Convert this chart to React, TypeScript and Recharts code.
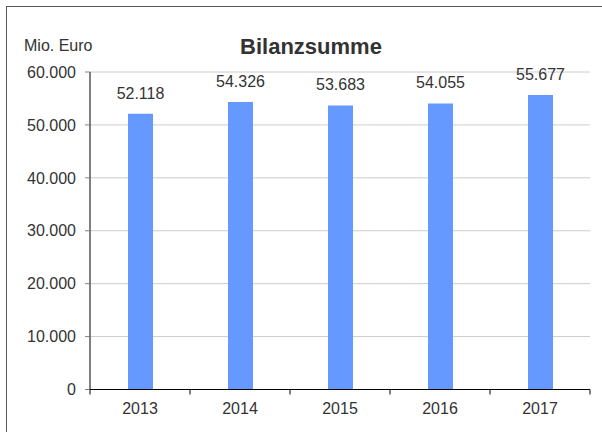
import React from 'react';
import { BarChart, Bar, XAxis, YAxis, CartesianGrid, LabelList } from 'recharts';

const years = ['2013', '2014', '2015', '2016', '2017'];
const totals = [52118, 54326, 53683, 54055, 55677];
const yTicks = [0, 10000, 20000, 30000, 40000, 50000, 60000];

const FONT = '"Liberation Sans", Arial, sans-serif';
const TEXT = '#333333';

// German thousands separator: 52118 -> 52.118
const fmt = (v: number) => String(v).replace(/\B(?=(\d{3})+(?!\d))/g, '.');

const data = years.map((year, i) => ({ year, value: totals[i] }));

// category label in the middle, tick marks on the category boundaries
function YearTick(props: any) {
    const { x, y, payload, index, visibleTicksCount } = props;
    const half = payload && payload.offset ? payload.offset : 50;
    const axisY = y - 13;
    return (
        <g>
            <line x1={x - half} x2={x - half} y1={axisY} y2={axisY + 5} stroke="#000" />
            {index === visibleTicksCount - 1 && (
                <line x1={x + half} x2={x + half} y1={axisY} y2={axisY + 5} stroke="#000" />
            )}
            <text x={x} y={y} dy="0.71em" textAnchor="middle" fill={TEXT} fontSize={16} fontFamily={FONT}>
                {payload.value}
            </text>
        </g>
    );
}

export default function App() {
    return (
        <div style={{ position: 'absolute', left: 0, top: 0, width: 602, height: 432, background: '#fff', fontFamily: FONT }}>
            <div
                style={{
                    position: 'absolute',
                    left: 6,
                    top: 6,
                    width: 600,
                    height: 430,
                    borderLeft: '1px solid #555',
                    borderTop: '1px solid #555',
                    boxSizing: 'border-box',
                }}
            />
            <svg width={602} height={432} style={{ position: 'absolute', left: 0, top: 0 }}>
                <text x={311} y={53.5} textAnchor="middle" fontSize={22} fontWeight="bold" fill={TEXT} fontFamily={FONT}>
                    Bilanzsumme
                </text>
                <text x={24} y={50.5} fontSize={16} fill={TEXT} fontFamily={FONT}>
                    Mio. Euro
                </text>
            </svg>
            <div style={{ position: 'absolute', left: 0, top: 0 }}>
                <BarChart width={602} height={432} data={data} margin={{ top: 72, right: 12, left: 0, bottom: 12.5 }}>
                    <CartesianGrid vertical={false} stroke="#cccccc" />
                    <XAxis
                        dataKey="year"
                        height={30}
                        axisLine={{ stroke: '#000' }}
                        tickLine={false}
                        tickSize={5}
                        tickMargin={8}
                        tick={<YearTick />}
                        interval={0}
                    />
                    <YAxis
                        width={90}
                        domain={[0, 60000]}
                        ticks={yTicks}
                        tickFormatter={fmt}
                        axisLine={{ stroke: '#000' }}
                        tickLine={{ stroke: '#808080' }}
                        tickSize={5}
                        tickMargin={9}
                        tick={{ fill: TEXT, fontSize: 16, fontFamily: FONT }}
                    />
                    <Bar dataKey="value" fill="#6699ff" barSize={25} isAnimationActive={false}>
                        <LabelList
                            dataKey="value"
                            position="top"
                            offset={15}
                            formatter={(v: any) => fmt(Number(v))}
                            fill={TEXT}
                            fontSize={16}
                            fontFamily={FONT}
                        />
                    </Bar>
                </BarChart>
            </div>
        </div>
    );
}
